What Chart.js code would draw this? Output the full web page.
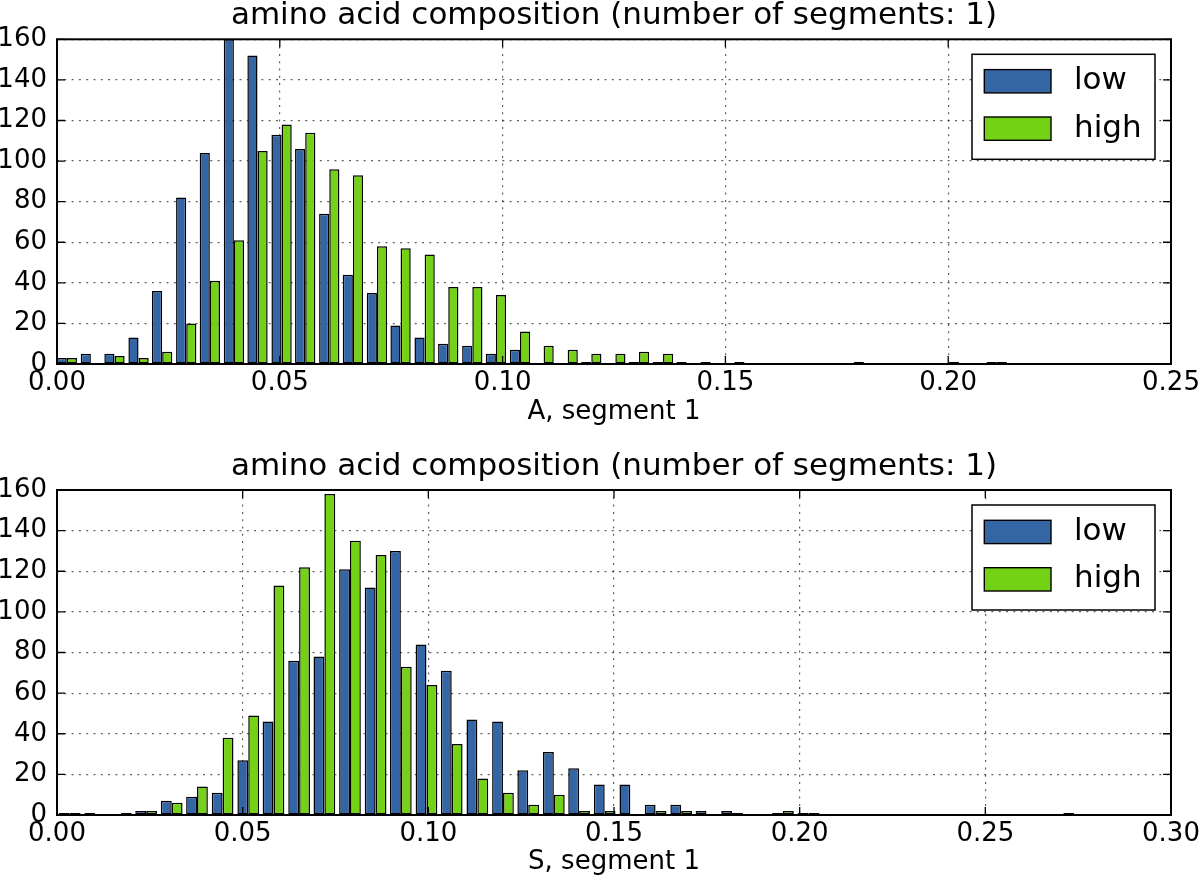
<!DOCTYPE html>
<html><head><meta charset="utf-8">
<script src="https://cdn.jsdelivr.net/npm/chart.js@4.4.0/dist/chart.umd.min.js"></script>
<style>
html,body{margin:0;padding:0;background:#fff;}
#wrap{position:relative;width:1200px;height:886px;}
canvas{position:absolute;left:0;}
</style></head><body>
<div id="wrap">
<canvas id="c1" width="1200" height="443" style="top:0"></canvas>
<canvas id="c2" width="1200" height="443" style="top:443px"></canvas>
</div>
<script>
// ---- data ----
const seriesNames = ['low', 'high'];
const titleText = 'amino acid composition (number of segments: 1)';

// panel 1: A, segment 1 (histogram bin centres)
const binCentersA = [0.0022, 0.0076, 0.0129, 0.0183, 0.0236, 0.0290, 0.0343, 0.0397, 0.0450, 0.0504,
  0.0557, 0.0611, 0.0664, 0.0718, 0.0771, 0.0825, 0.0878, 0.0932, 0.0985, 0.1039,
  0.1092, 0.1146, 0.1199, 0.1253, 0.1306, 0.1360, 0.1413, 0.1467, 0.1520, 0.1574,
  0.1627, 0.1681, 0.1734, 0.1788, 0.1841, 0.1895, 0.1948, 0.2002, 0.2055, 0.2109];
const lowA = [3, 5, 5, 13, 36, 82, 104, 160, 152, 113,
  106, 74, 44, 35, 19, 13, 10, 9, 5, 7,
  0, 0, 1, 0, 1, 1, 1, 1, 0, 0,
  0, 0, 0, 0, 0, 0, 0, 0, 0, 1];
const highA = [3, 0, 4, 3, 6, 20, 41, 61, 105, 118,
  114, 96, 93, 58, 57, 54, 38, 38, 34, 16,
  9, 7, 5, 5, 6, 5, 0, 0, 1, 0,
  0, 0, 0, 1, 0, 0, 0, 1, 0, 1];
const xTicksA = [0, 0.05, 0.10, 0.15, 0.20, 0.25];

// panel 2: S, segment 1
const binCentersS = [0.0034, 0.0103, 0.0172, 0.0240, 0.0309, 0.0377, 0.0446, 0.0515, 0.0583, 0.0652,
  0.0720, 0.0789, 0.0858, 0.0926, 0.0995, 0.1063, 0.1132, 0.1201, 0.1269, 0.1338,
  0.1406, 0.1475, 0.1544, 0.1612, 0.1681, 0.1749, 0.1818, 0.1887, 0.1955, 0.2024,
  0.2092, 0.2161, 0.2230, 0.2298, 0.2367, 0.2435, 0.2504, 0.2573, 0.2641, 0.2710];
const lowS = [1, 1, 0, 2, 7, 9, 11, 27, 46, 76,
  78, 121, 112, 130, 84, 71, 47, 46, 22, 31,
  23, 15, 15, 5, 5, 2, 2, 0, 1, 1,
  0, 0, 0, 0, 0, 0, 0, 0, 0, 0];
const highS = [1, 0, 1, 2, 6, 14, 38, 49, 113, 122,
  158, 135, 128, 73, 64, 35, 18, 11, 5, 10,
  2, 2, 0, 2, 2, 0, 1, 0, 2, 1,
  0, 0, 0, 0, 0, 0, 0, 0, 0, 1];
const xTicksS = [0, 0.05, 0.10, 0.15, 0.20, 0.25, 0.30];

const yTicks = [0, 20, 40, 60, 80, 100, 120, 140, 160];

// ---- style ----
const COLORS = ['#3465a4', '#73d216'];
const FONT = "'DejaVu Sans', sans-serif";
const GRID = 'rgba(0,0,0,0.62)';

const titleCenter = {
  id: 'titleCenter',
  afterLayout(chart) {
    const t = chart.titleBlock;
    if (t) { t.left = chart.chartArea.left; t.right = chart.chartArea.right; t.width = t.right - t.left; }
  }
};

const framePlugin = {
  id: 'frame',
  afterDraw(chart) {
    const {ctx, chartArea: a, scales} = chart;
    ctx.save();
    ctx.strokeStyle = '#000';
    ctx.lineWidth = 1.3;
    const L = 8;
    ctx.beginPath();
    scales.x.ticks.forEach(t => {
      const px = scales.x.getPixelForValue(t.value);
      ctx.moveTo(px, a.bottom); ctx.lineTo(px, a.bottom - L);
      ctx.moveTo(px, a.top); ctx.lineTo(px, a.top + L);
    });
    scales.y.ticks.forEach(t => {
      const py = scales.y.getPixelForValue(t.value);
      ctx.moveTo(a.left, py); ctx.lineTo(a.left + L, py);
      ctx.moveTo(a.right, py); ctx.lineTo(a.right - L, py);
    });
    ctx.stroke();
    ctx.lineWidth = 2;
    ctx.strokeRect(a.left, a.top, a.right - a.left, a.bottom - a.top);
    ctx.restore();
  }
};

const boxLegend = {
  id: 'boxLegend',
  afterDraw(chart) {
    const {ctx, chartArea: a} = chart;
    const w = 183, h = 105;
    const x0 = a.right - 16 - w, y0 = a.top + 15;
    ctx.save();
    ctx.fillStyle = '#fff';
    ctx.fillRect(x0, y0, w, h);
    ctx.lineWidth = 1.5; ctx.strokeStyle = '#000';
    ctx.strokeRect(x0, y0, w, h);
    chart.data.datasets.forEach((ds, i) => {
      const py = y0 + 15.3 + i * 47.4;
      ctx.fillStyle = ds.backgroundColor;
      ctx.fillRect(x0 + 12.3, py, 66.7, 23.3);
      ctx.lineWidth = 1.4;
      ctx.strokeStyle = '#000';
      ctx.strokeRect(x0 + 12.3, py, 66.7, 23.3);
      ctx.fillStyle = '#000';
      ctx.font = "31px 'DejaVu Sans', sans-serif";
      ctx.textBaseline = 'middle';
      ctx.textAlign = 'left';
      ctx.fillText(ds.label, x0 + 102, py + 11.7);
    });
    ctx.restore();
  }
};

function makeChart(id, bins, low, high, xMax, xTicks, xTitle, o) {
  const ds = (i, data) => ({
    label: seriesNames[i], data: data,
    backgroundColor: COLORS[i], borderColor: '#000', borderWidth: 1.5,
    borderSkipped: false, categoryPercentage: 0.86, barPercentage: 1.0
  });
  return new Chart(document.getElementById(id), {
    type: 'bar',
    data: { labels: bins, datasets: [ds(0, low), ds(1, high)] },
    options: {
      responsive: false, animation: false, devicePixelRatio: 1,
      layout: { padding: { left: 0, right: 29, top: 0, bottom: 0 } },
      plugins: {
        legend: { display: false }, tooltip: { enabled: false },
        title: { display: true, text: titleText, color: '#000',
          font: { family: FONT, size: 31, weight: 'normal', lineHeight: 1 },
          padding: { top: o.titleTop, bottom: o.titleBottom } }
      },
      scales: {
        x: {
          type: 'linear', min: 0, max: xMax, offset: false, z: 1,
          afterBuildTicks: s => { s.ticks = xTicks.map(v => ({ value: v })); },
          grid: { offset: false, color: GRID, lineWidth: 1.2, drawTicks: false },
          border: { display: false, dash: [2, 5.3] },
          ticks: { color: '#000', font: { family: FONT, size: 26, lineHeight: 1 }, padding: 6,
            maxRotation: 0, autoSkip: false, callback: v => Number(v).toFixed(2) },
          title: { display: true, text: xTitle, color: '#000',
            font: { family: FONT, size: 26, lineHeight: 1 }, padding: { top: 3, bottom: o.xTitleBottom } },
          afterFit: s => { s.height = o.xAxisH; s.paddingLeft = 0; s.paddingRight = 0; }
        },
        y: {
          min: 0, max: 160, z: 1,
          afterBuildTicks: s => { s.ticks = yTicks.map(v => ({ value: v })); },
          grid: { color: GRID, lineWidth: 1.2, drawTicks: false },
          border: { display: false, dash: [2, 5.3] },
          ticks: { color: '#000', font: { family: FONT, size: 26, lineHeight: 1 }, padding: 10 },
          afterFit: s => { s.width = 57; s.paddingTop = 0; s.paddingBottom = 0; }
        }
      }
    },
    plugins: [titleCenter, framePlugin, boxLegend]
  });
}

makeChart('c1', binCentersA, lowA, highA, 0.25, xTicksA, 'A, segment 1',
  { titleTop: 0.8, titleBottom: 7.5, xAxisH: 79, xTitleBottom: 18 });
makeChart('c2', binCentersS, lowS, highS, 0.30, xTicksS, 'S, segment 1',
  { titleTop: 8.5, titleBottom: 7.5, xAxisH: 71, xTitleBottom: 11 });
</script>
</body></html>
